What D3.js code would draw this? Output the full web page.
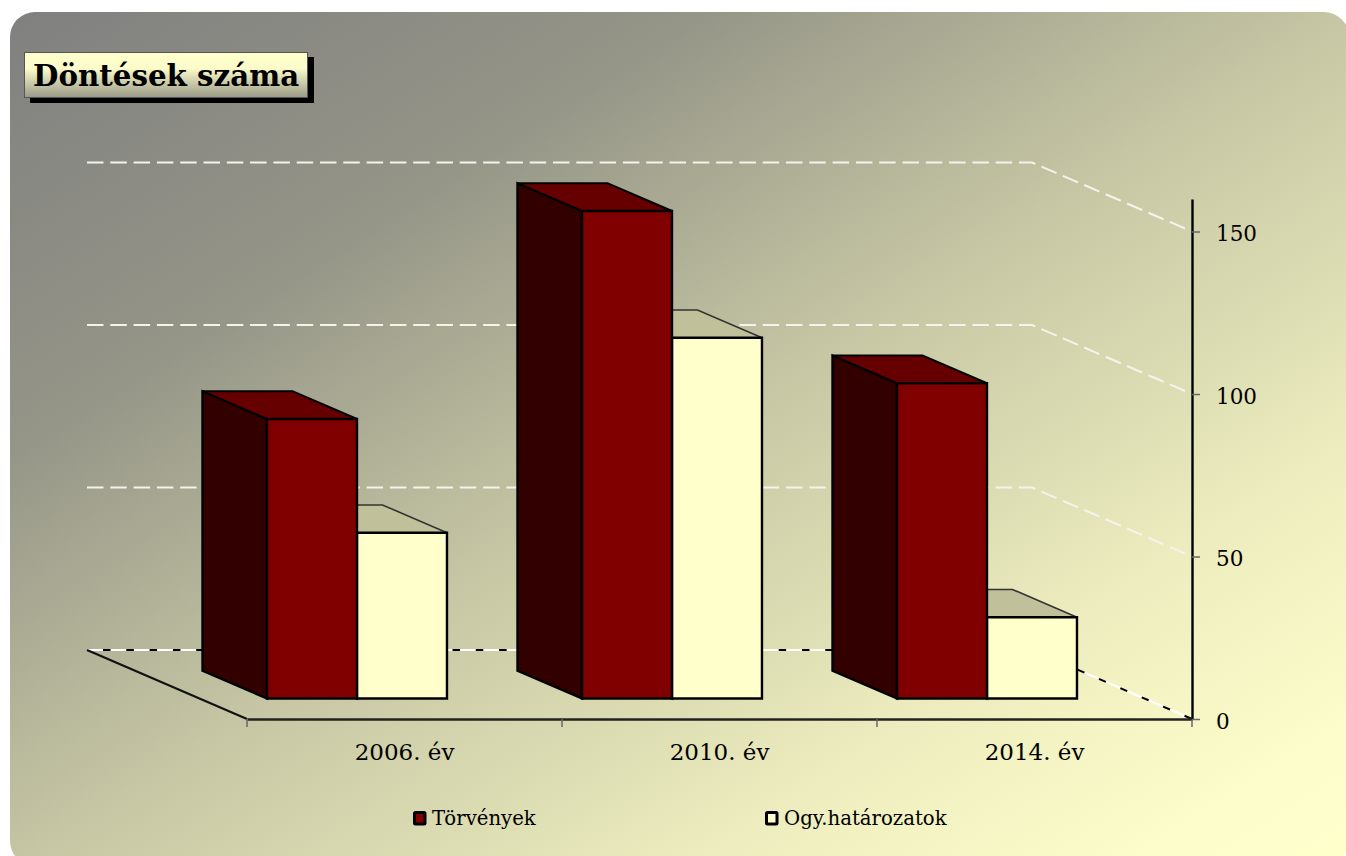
<!DOCTYPE html>
<html><head><meta charset="utf-8">
<script src="https://cdn.jsdelivr.net/npm/d3@7"></script>
<style>html,body{margin:0;padding:0;background:#fff;overflow:hidden}svg{display:block}text{font-family:"DejaVu Serif",serif;fill:#000}</style>
</head><body><svg id="c" width="1346" height="856"></svg>
<script>
const titleText = "Döntések száma";
const categories = ["2006. év","2010. év","2014. év"];
const seriesNames = ["Törvények","Ogy.határozatok"];
const torvenyek = [86,150,97];
const hatarozatok = [51,111,25];
const valueTicks = [0,50,100,150];
const colors = {front:["#800000","#FFFFCC"],side:["#330000","#666652"],top:["#660000","#C0C09A"]};

const svg = d3.select("#c");
const defs = svg.append("defs");
const bg = defs.append("linearGradient").attr("id","bg").attr("x1",0).attr("y1",0).attr("x2",1).attr("y2",1);
[[0,"#808080"],[.25,"#949487"],[.5,"#C6C6A4"],[.75,"#ECECBE"],[.92,"#FDFDCB"],[1,"#FFFFCC"]].forEach(s=>
  bg.append("stop").attr("offset",s[0]).attr("stop-color",s[1]));
const tg = defs.append("linearGradient").attr("id","tg").attr("x1",0).attr("y1",0).attr("x2",0).attr("y2",1);
tg.append("stop").attr("offset",0).attr("stop-color","#FFFFCC");
tg.append("stop").attr("offset",.35).attr("stop-color","#FCFCCA");
tg.append("stop").attr("offset",1).attr("stop-color","#999988");

svg.append("rect").attr("x",10).attr("y",12).attr("width",1339).attr("height",854).attr("rx",25).attr("fill","url(#bg)");

const x = d3.scaleBand().domain(categories).range([247,1192]);
const y = d3.scaleLinear().domain([0,160]).range([719,199]);
const sub = d3.scaleBand().domain(seriesNames).range([-90,90]);
const depthX = 160, depthY = 69;
const frontD = 0.297, backD = 0.70;
const P = (px,v,d)=>[px-depthX*d, y(v)-depthY*d];
const line = d3.line();

// walls & floor
const wall = svg.append("g");
const gridPath = v => line([P(x.range()[0],v,1),P(x.range()[1],v,1),P(x.range()[1],v,0)]);
wall.selectAll("path.g0").data(valueTicks).join("path").attr("d",gridPath)
  .attr("fill","none").attr("stroke",d=>d===0?"#fff":"#F4F4EC").attr("stroke-width",2)
  .attr("stroke-dasharray","16.5 6.8");
wall.append("path").attr("d",gridPath(0)).attr("fill","none").attr("stroke","#000").attr("stroke-width",2).attr("stroke-dasharray","7.5 15.8").attr("stroke-dashoffset",-16);
wall.append("path").attr("d",line([P(x.range()[0],0,1),P(x.range()[0],0,0)])).attr("stroke","#111").attr("stroke-width",2.2).attr("fill","none");

// bars: back series first, then front series over it
const bars = [{s:1,vals:hatarozatok},{s:0,vals:torvenyek}];
bars.forEach(b=>{
  const name = seriesNames[b.s];
  const g = svg.append("g").attr("stroke","#000").attr("stroke-width",2.4).attr("stroke-linejoin","miter");
  categories.forEach((c,i)=>{
    const v = b.vals[i];
    const x0 = x(c)+x.bandwidth()/2+sub(name), x1 = x0+sub.bandwidth();
    g.append("path").attr("fill",colors.side[b.s]).attr("d",line([P(x0,0,frontD),P(x0,v,frontD),P(x0,v,backD),P(x0,0,backD)])+"Z");
    g.append("path").attr("fill",colors.top[b.s]).attr("stroke",b.s?"#333":"#000").attr("stroke-width",b.s?1.6:2).attr("d",line([P(x0,v,frontD),P(x1,v,frontD),P(x1,v,backD),P(x0,v,backD)])+"Z");
    g.append("path").attr("fill",colors.front[b.s]).attr("d",line([P(x0,0,frontD),P(x1,0,frontD),P(x1,v,frontD),P(x0,v,frontD)])+"Z");
  });
});

// axes
const xAxis = svg.append("g").attr("transform",`translate(0,${y(0)})`).call(d3.axisBottom(x).tickSize(0));
xAxis.select(".domain").attr("stroke","#222").attr("stroke-width",2.4);
xAxis.selectAll("text").attr("font-size",23).attr("dy",0).attr("y",41);
const edges = x.domain().map(c=>x(c)).concat(x.range()[1]);
xAxis.selectAll("line.e").data(edges).join("line").attr("class","e").attr("x1",d=>d).attr("x2",d=>d).attr("y1",0).attr("y2",8).attr("stroke","#666").attr("stroke-width",1.5);

const yAxis = svg.append("g").attr("transform",`translate(${x.range()[1]},0)`).call(d3.axisRight(y).tickValues(valueTicks).tickSizeInner(8).tickSizeOuter(0));
yAxis.select(".domain").attr("stroke","#000").attr("stroke-width",2.4);
yAxis.selectAll("line").attr("stroke","#666").attr("stroke-width",1.5);
yAxis.selectAll("text").attr("font-size",21.5).attr("x",24).attr("dy",0).attr("y",9);

// legend
const legendX = [413,765];
seriesNames.forEach((n,i)=>{
  svg.append("rect").attr("x",legendX[i]+1.5).attr("y",812.5).attr("width",10.5).attr("height",11.5)
    .attr("fill",colors.front[i]).attr("stroke","#000").attr("stroke-width",3).attr("rx",1);
  svg.append("text").attr("x",legendX[i]+19).attr("y",825).attr("font-size",19.7).text(n);
});

// title
svg.append("rect").attr("x",30).attr("y",57).attr("width",284).attr("height",46).attr("fill","#000");
svg.append("rect").attr("x",24.5).attr("y",52.5).attr("width",283).attr("height",45).attr("fill","url(#tg)").attr("stroke","#555").attr("stroke-width",1);
svg.append("text").attr("x",33).attr("y",86).attr("font-size",29.3).attr("font-weight","bold").text(titleText);
</script></body></html>
